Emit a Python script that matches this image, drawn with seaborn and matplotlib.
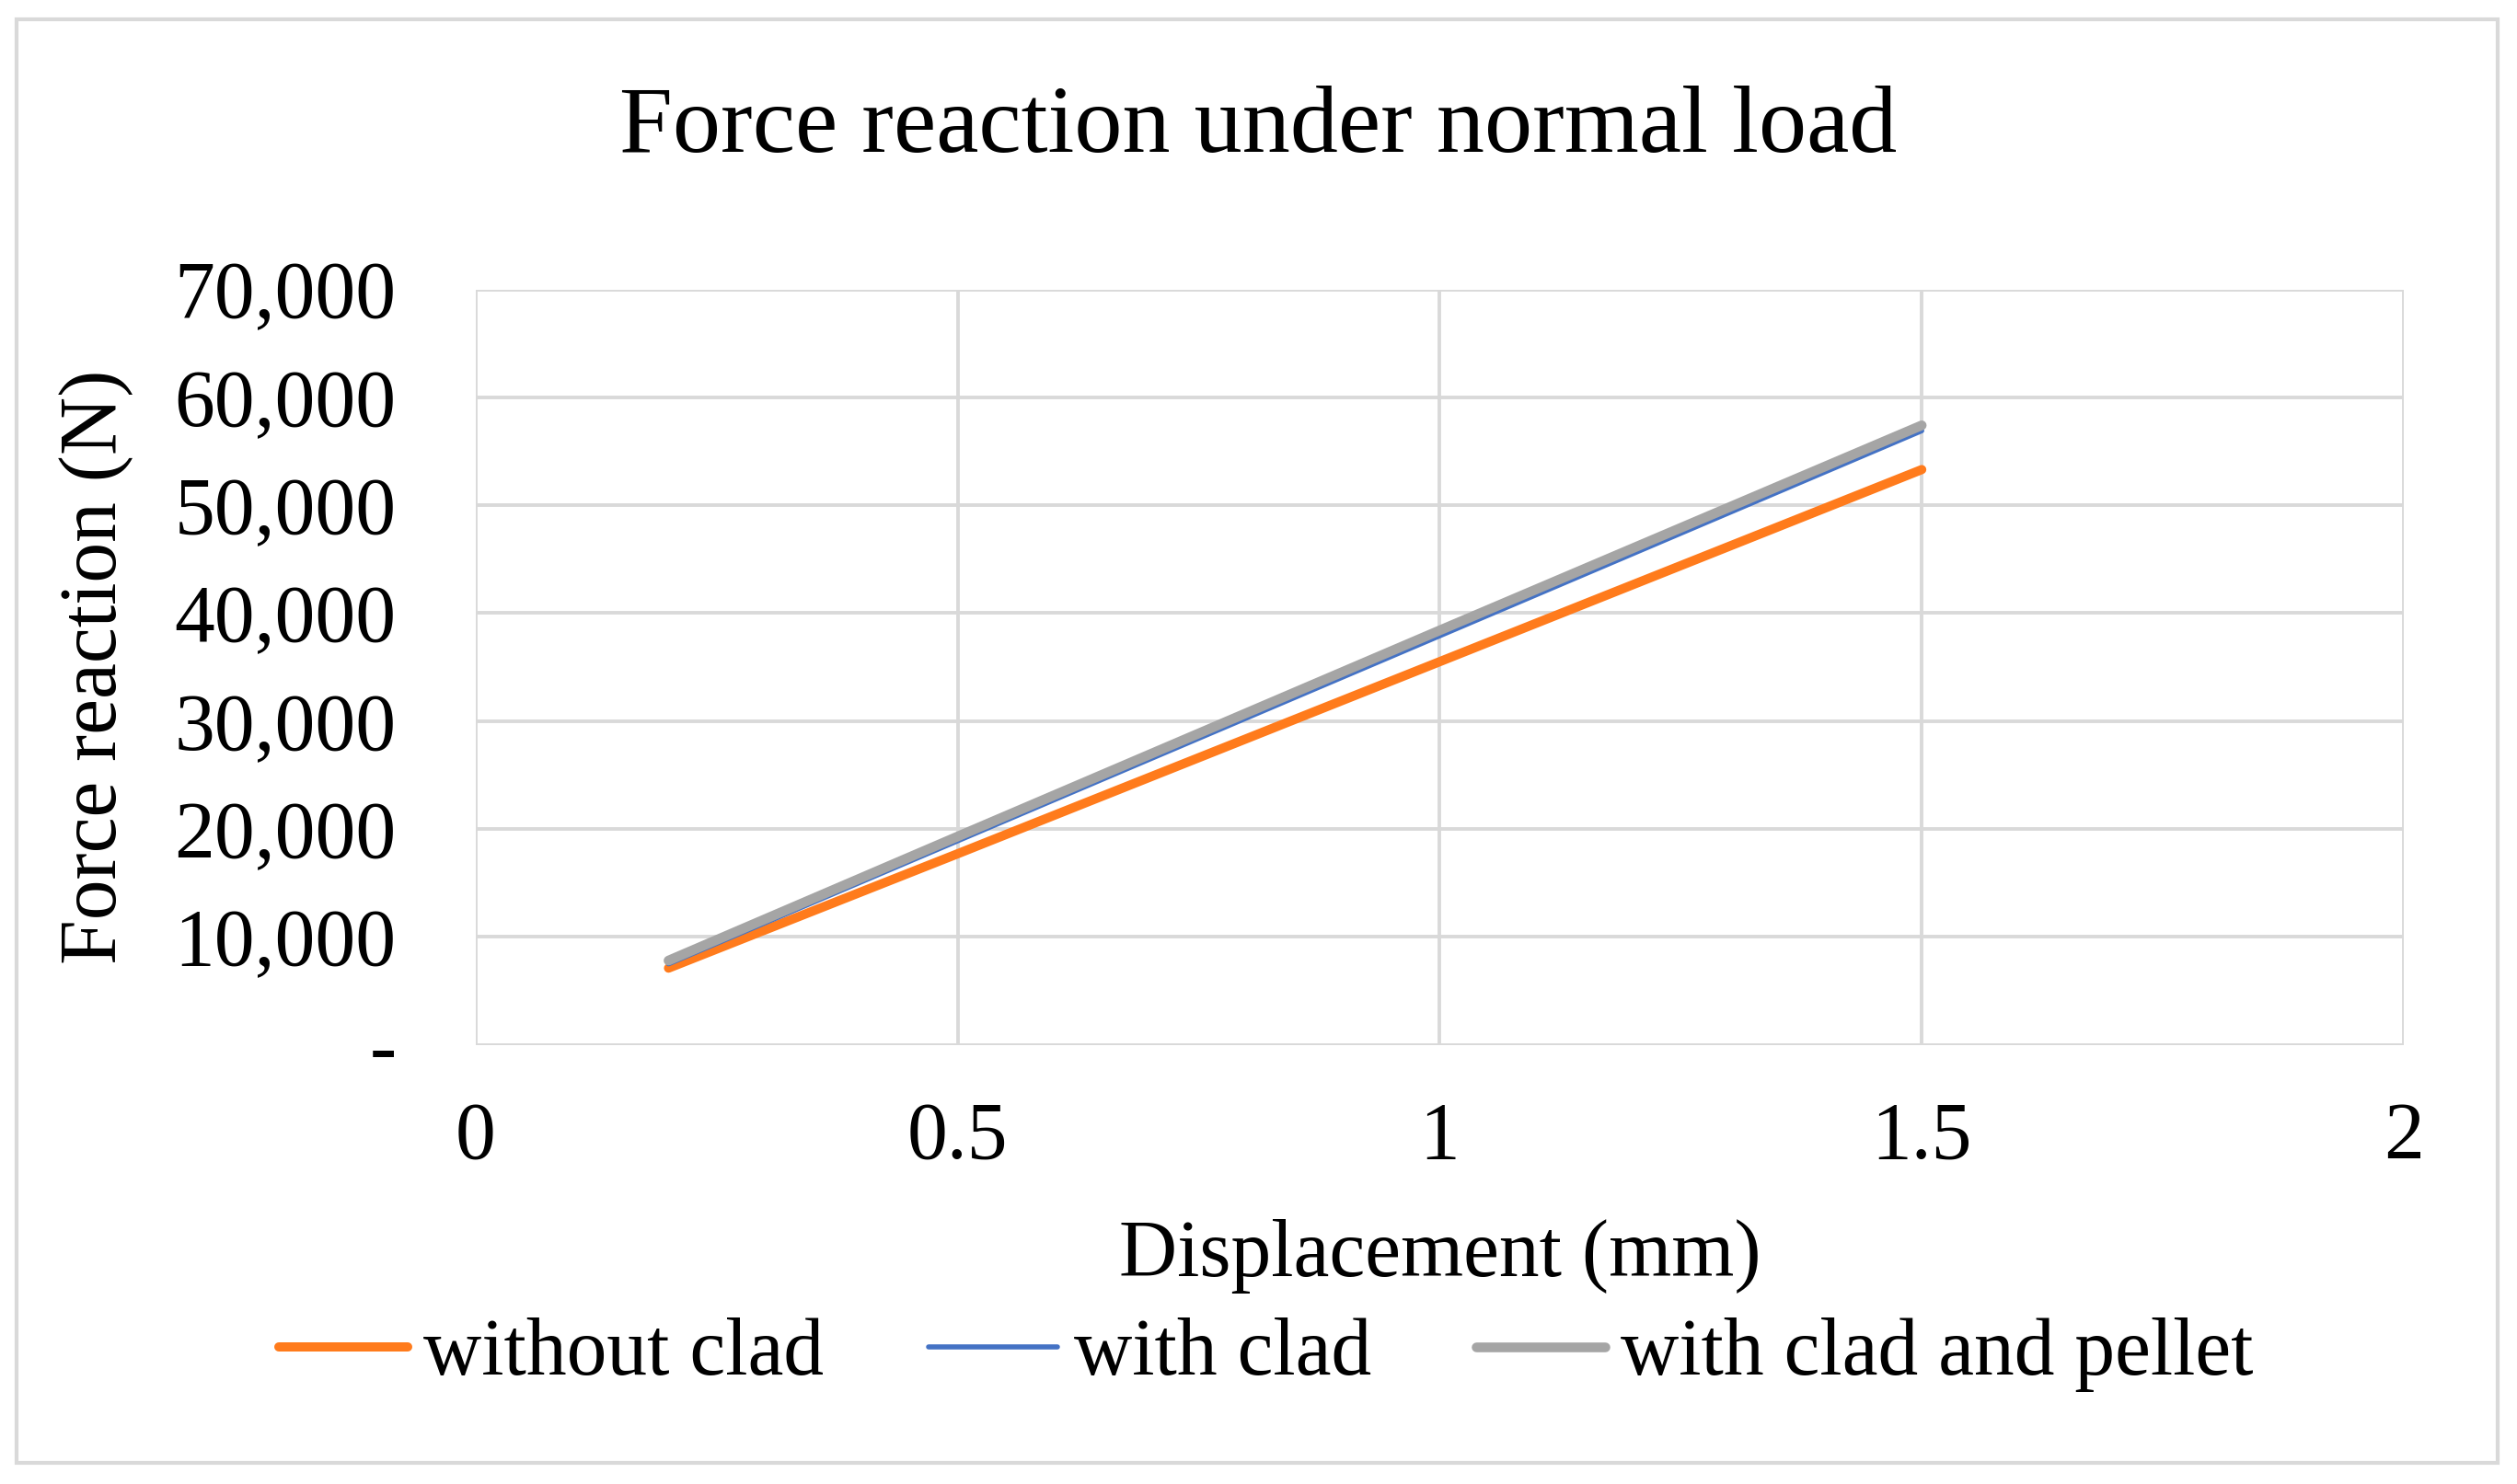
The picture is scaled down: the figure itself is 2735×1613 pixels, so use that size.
import numpy as np
import pandas as pd
import matplotlib
matplotlib.use("Agg")
import matplotlib.pyplot as plt
import seaborn as sns
from matplotlib.ticker import FuncFormatter
from matplotlib.patches import Rectangle
from matplotlib.lines import Line2D

# Data
displacement = [0.2, 0.5, 1.0, 1.5]
without_clad = [7100, 17700, 35500, 53300]
with_clad = [7500, 18900, 37900, 56900]
with_clad_pellet = [7800, 19300, 38400, 57400]
series_names = ["without clad", "with clad", "with clad and pellet"]
x_ticks = [0, 0.5, 1, 1.5, 2]
y_ticks = [0, 10000, 20000, 30000, 40000, 50000, 60000, 70000]

df = pd.DataFrame({
    "Displacement": displacement * 3,
    "Force": without_clad + with_clad + with_clad_pellet,
    "Series": [series_names[0]] * 4 + [series_names[1]] * 4 + [series_names[2]] * 4,
})

sns.set_style("white")
plt.rcParams["font.family"] = ["Liberation Serif", "DejaVu Serif"]
plt.rcParams["text.color"] = "black"
plt.rcParams["axes.labelcolor"] = "black"

fig = plt.figure(figsize=(27.35, 16.13), dpi=100)
ax = fig.add_axes([0.189, 0.296, 0.766, 0.509])

palette = {series_names[0]: "#FF7B1C", series_names[1]: "#4472C4", series_names[2]: "#A5A5A5"}
sns.lineplot(data=df, x="Displacement", y="Force", hue="Series", palette=palette,
             ax=ax, legend=False, linewidth=6, solid_capstyle="round")
widths = [7.2, 4.0, 7.6]
for line, w in zip(ax.get_lines(), widths):
    line.set_linewidth(w)

ax.set_xlim(0, 2)
ax.set_ylim(0, 70000)
ax.set_xticks(x_ticks)
ax.set_xticklabels([f"{t:g}" for t in x_ticks])
ax.set_yticks(y_ticks)
ax.yaxis.set_major_formatter(FuncFormatter(lambda v, p: "-" if v == 0 else f"{int(v):,}"))
ax.grid(True, color="#D9D9D9", linewidth=2.8)
ax.set_axisbelow(True)
for s in ax.spines.values():
    s.set_visible(False)
ax.tick_params(axis="both", length=0, labelsize=63, labelcolor="#000000")
ax.tick_params(axis="x", pad=44)
ax.tick_params(axis="y", pad=62)

ax.set_xlabel("Displacement (mm)", fontsize=63, labelpad=34)
ax.set_ylabel("Force reaction (N)", fontsize=63, labelpad=32)

fig.text(0.5, 0.913, "Force reaction under normal load", ha="center", va="center", fontsize=75)

handles = [Line2D([0], [0], color=palette[n], linewidth=w) for n, w in zip(series_names, widths)]
fig.legend(handles, series_names, loc="center", bbox_to_anchor=(0.503, 0.087), ncol=3,
           frameon=False, fontsize=63, handlelength=1.6, handletextpad=0.2, columnspacing=1.3)

fig.patches.append(Rectangle((0.0065, 0.014), 0.986, 0.973, transform=fig.transFigure,
                             fill=False, edgecolor="#D9D9D9", linewidth=3))

fig.savefig("out.png", dpi=100)
